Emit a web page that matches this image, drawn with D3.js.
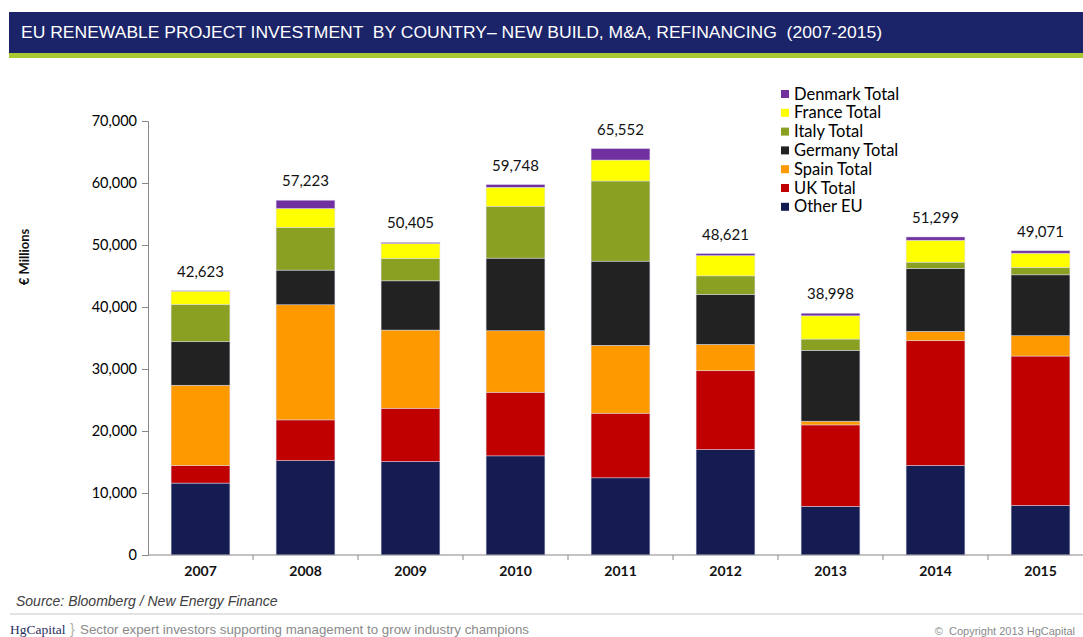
<!DOCTYPE html>
<meta charset="utf-8">
<html>
  <head>
    <script src="https://cdn.jsdelivr.net/npm/d3@7"></script>
    <style>
      body { margin: 0; background: #fff; }
    </style>
  </head>
  <body>
    <div id="chart"></div>

    <script type="text/javascript">
      // data (EUR millions)
      var years = ["2007", "2008", "2009", "2010", "2011", "2012", "2013", "2014", "2015"];
      var seriesNames = ["Other EU", "UK Total", "Spain Total", "Germany Total", "Italy Total", "France Total", "Denmark Total"];
      var otherEU      = [11600, 15230, 15070, 15990, 12450, 17000, 7830, 14430, 7990];
      var ukTotal      = [2830, 6560, 8600, 10260, 10420, 12720, 13150, 20130, 24100];
      var spainTotal   = [12950, 18570, 12610, 9920, 10950, 4250, 600, 1510, 3280];
      var germanyTotal = [7020, 5590, 7940, 11710, 13575, 8050, 11430, 10150, 9820];
      var italyTotal   = [6020, 6880, 3610, 8370, 12930, 3000, 1820, 1010, 1190];
      var franceTotal  = [2140, 3060, 2410, 3060, 3380, 3280, 3750, 3540, 2300];
      var denmarkTotal = [60, 1333, 165, 440, 1850, 321, 415, 525, 390];
      var totals       = [42623, 57223, 50405, 59748, 65552, 48621, 38998, 51299, 49071];
      var yTicks       = [0, 10000, 20000, 30000, 40000, 50000, 60000, 70000];

      var colors = ["#141c52", "#c00000", "#ff9900", "#222222", "#89a023", "#ffff00", "#7030a0"];
      var seriesValues = [otherEU, ukTotal, spainTotal, germanyTotal, italyTotal, franceTotal, denmarkTotal];

      var width = 1083, height = 637;
      var chartFont = "Lato, 'Open Sans', sans-serif";

      var rows = years.map(function(y, i) {
        var r = { year: y };
        seriesNames.forEach(function(s, j) { r[s] = seriesValues[j][i]; });
        return r;
      });

      var svg = d3.select("#chart").append("svg")
          .attr("width", width)
          .attr("height", height)
          .style("display", "block");

      // header band
      svg.append("rect").attr("x", 9).attr("y", 12).attr("width", width - 9).attr("height", 41).style("fill", "#1b2468");
      svg.append("rect").attr("x", 9).attr("y", 53).attr("width", width - 9).attr("height", 5).style("fill", "#a8c932");
      svg.append("text")
          .attr("x", 21).attr("y", 37.5)
          .attr("textLength", 861).attr("lengthAdjust", "spacingAndGlyphs")
          .style("font-family", "'Liberation Sans', Arial, sans-serif")
          .style("font-size", "16px")
          .style("fill", "#ffffff")
          .style("white-space", "pre")
          .text("EU RENEWABLE PROJECT INVESTMENT  BY COUNTRY\u2013 NEW BUILD, M&A, REFINANCING  (2007-2015)");

      var x = d3.scaleBand().domain(years).range([148, 1093]).paddingInner(0.44).paddingOuter(0.22);
      var y = d3.scaleLinear().domain([0, 70000]).range([555, 121]);

      var stack = d3.stack().keys(seriesNames);
      var layers = stack(rows);

      svg.selectAll(".layer")
          .data(layers)
          .enter().append("g")
          .attr("class", "layer")
          .style("fill", function(d, i) { return colors[i]; })
          .selectAll("rect")
          .data(function(d) { return d; })
          .enter().append("rect")
          .attr("x", function(d) { return x(d.data.year); })
          .attr("width", x.bandwidth())
          .attr("y", function(d) { return y(d[1]); })
          .attr("height", function(d) { return y(d[0]) - y(d[1]); })
          .style("stroke", "rgba(220,220,240,0.8)")
          .style("stroke-width", "0.6px");

      // total labels
      svg.selectAll(".total")
          .data(years)
          .enter().append("text")
          .attr("x", function(d) { return x(d) + x.bandwidth() / 2; })
          .attr("y", function(d, i) { return y(d3.sum(seriesValues, function(s) { return s[i]; })) - 14; })
          .style("text-anchor", "middle")
          .style("font-family", chartFont)
          .style("font-size", "15px")
          .style("fill", "#111")
          .text(function(d, i) { return d3.format(",")(totals[i]); });

      // y axis
      var yAxis = svg.append("g")
          .attr("transform", "translate(148,0)")
          .call(d3.axisLeft(y).tickValues(yTicks).tickFormat(d3.format(",")).tickSizeOuter(0).tickSize(6).tickPadding(5));
      yAxis.select(".domain").style("stroke", "#888");
      yAxis.selectAll(".tick line").style("stroke", "#888");
      yAxis.selectAll("text").style("font-family", chartFont).style("font-size", "14.5px").style("fill", "#000");

      // x axis
      var xAxis = svg.append("g")
          .attr("transform", "translate(0,555)")
          .call(d3.axisBottom(x).tickSize(0).tickPadding(11));
      xAxis.select(".domain").style("stroke", "#888").attr("d", "M148,0H1093");
      xAxis.selectAll("text").style("font-family", chartFont).style("font-size", "14px").style("font-weight", "bold").style("fill", "#111");
      xAxis.selectAll(".sep")
          .data(years.slice(1))
          .enter().append("line")
          .attr("class", "sep")
          .attr("x1", function(d) { return x(d) - x.step() * x.paddingInner() / 2; })
          .attr("x2", function(d) { return x(d) - x.step() * x.paddingInner() / 2; })
          .attr("y1", 0).attr("y2", 5)
          .style("stroke", "#888");

      svg.append("text")
          .attr("transform", "translate(29,257) rotate(-90)")
          .style("text-anchor", "middle")
          .style("font-family", chartFont)
          .style("font-size", "13px")
          .style("font-weight", "bold")
          .style("fill", "#111")
          .text("\u20ac Millions");

      // legend
      var legendNames = seriesNames.slice().reverse();
      var legendColors = colors.slice().reverse();
      var legend = svg.selectAll(".legend")
          .data(legendNames)
          .enter().append("g")
          .attr("class", "legend")
          .attr("transform", function(d, i) { return "translate(781," + (94 + i * 18.8) + ")"; });
      legend.append("rect")
          .attr("x", 0).attr("y", -4).attr("width", 8).attr("height", 8)
          .style("fill", function(d, i) { return legendColors[i]; });
      legend.append("text")
          .attr("x", 13).attr("y", 5.5)
          .style("font-family", chartFont)
          .style("font-size", "16.5px")
          .style("fill", "#000")
          .text(function(d) { return d; });

      // footer
      svg.append("text")
          .attr("x", 16).attr("y", 606)
          .style("font-family", "'Liberation Sans', Arial, sans-serif")
          .style("font-size", "14px")
          .style("font-style", "italic")
          .style("fill", "#404040")
          .text("Source: Bloomberg / New Energy Finance");
      svg.append("line")
          .attr("x1", 10).attr("x2", width).attr("y1", 614).attr("y2", 614)
          .style("stroke", "#e3e3e3").style("stroke-width", "2px");
      svg.append("text")
          .attr("x", 10).attr("y", 634)
          .style("font-family", "'Liberation Serif', serif")
          .style("font-size", "13.5px")
          .style("fill", "#2a3060")
          .text("HgCapital");
      svg.append("text")
          .attr("x", 70).attr("y", 634)
          .style("font-family", "'Liberation Sans', Arial, sans-serif")
          .style("font-size", "14px")
          .style("fill", "#b0b0b0")
          .text("}");
      svg.append("text")
          .attr("x", 80).attr("y", 634)
          .attr("textLength", 449).attr("lengthAdjust", "spacingAndGlyphs")
          .style("font-family", "'Liberation Sans', Arial, sans-serif")
          .style("font-size", "13.5px")
          .style("fill", "#8a8a8a")
          .text("Sector expert investors supporting management to grow industry champions");
      svg.append("text")
          .attr("x", 1075).attr("y", 635)
          .style("text-anchor", "end")
          .style("font-family", "'Liberation Sans', Arial, sans-serif")
          .style("font-size", "11px")
          .style("fill", "#8a8a8a")
          .style("white-space", "pre")
          .text("\u00a9  Copyright 2013 HgCapital");
    </script>
  </body>
</html>
